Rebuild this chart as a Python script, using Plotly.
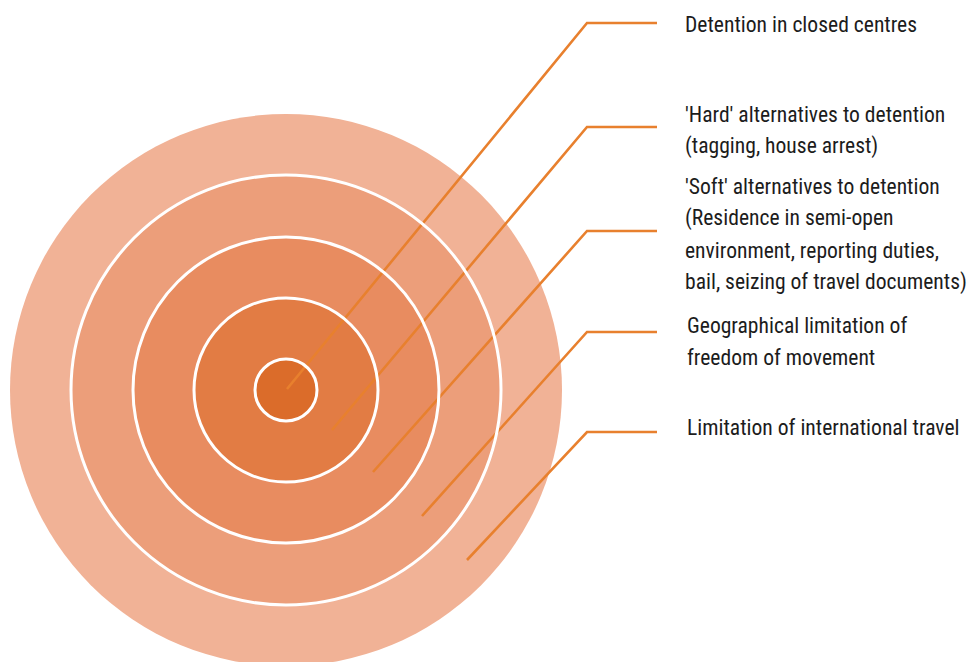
import plotly.graph_objects as go

# Concentric ring radii (outer -> inner), pixel units of the diagram
ring_radius = [276, 215, 153, 92, 31]
ring_color = ["#F1B296", "#EC9E7A", "#E88C60", "#E27C44", "#DB6C2A"]
center = (286, 390)

labels = [
    ["Detention in closed centres"],
    ["'Hard' alternatives to detention", "(tagging, house arrest)"],
    ["'Soft' alternatives to detention", "(Residence in semi-open",
     "environment, reporting duties,", "bail, seizing of travel documents)"],
    ["Geographical limitation of", "freedom of movement"],
    ["Limitation of international travel"],
]
# leader line anchor inside each ring, elbow, and end
anchor_x = [287, 332, 373, 422, 467]
anchor_y = [389, 430, 472, 516, 560]
elbow_x = [587, 587, 587, 587, 587]
elbow_y = [23, 127, 231, 332, 432]
end_x = [657, 657, 657, 657, 657]
label_x = [683, 683, 683, 685, 685]
label_y = [24, 114, 186, 325, 427]
line_gap = 32

W, H = 969, 662
fig = go.Figure()

shapes = []
cx, cy = center
for r, c in zip(ring_radius, ring_color):
    shapes.append(dict(type="circle", xref="x", yref="y",
                       x0=cx - r, x1=cx + r, y0=cy - r, y1=cy + r,
                       fillcolor=c, line=dict(width=0), layer="below"))
for r in ring_radius[1:]:
    shapes.append(dict(type="circle", xref="x", yref="y",
                       x0=cx - r, x1=cx + r, y0=cy - r, y1=cy + r,
                       fillcolor="rgba(0,0,0,0)", line=dict(color="white", width=3),
                       layer="above"))

for i in range(len(labels)):
    fig.add_trace(go.Scatter(
        x=[anchor_x[i], elbow_x[i], end_x[i]],
        y=[anchor_y[i], elbow_y[i], elbow_y[i]],
        mode="lines", line=dict(color="#E8802E", width=2.6),
        hoverinfo="skip", showlegend=False))

for i, lines in enumerate(labels):
    for j, t in enumerate(lines):
        fig.add_annotation(x=label_x[i], y=label_y[i] + j * line_gap, xref="x", yref="y",
                           text=t, showarrow=False, xanchor="left", yanchor="middle",
                           align="left",
                           font=dict(family="Roboto Condensed, Liberation Sans Narrow, sans-serif",
                                     size=21.6, color="#1c1c1c"))

fig.update_layout(
    width=W, height=H, margin=dict(l=0, r=0, t=0, b=0),
    paper_bgcolor="white", plot_bgcolor="white",
    shapes=shapes, showlegend=False,
    xaxis=dict(range=[0, W], visible=False, fixedrange=True),
    yaxis=dict(range=[H, 0], visible=False, fixedrange=True),
)
fig.write_html("out.html", config={"displayModeBar": False},
               post_script="document.body.style.margin='0';document.body.style.overflow='hidden';")
